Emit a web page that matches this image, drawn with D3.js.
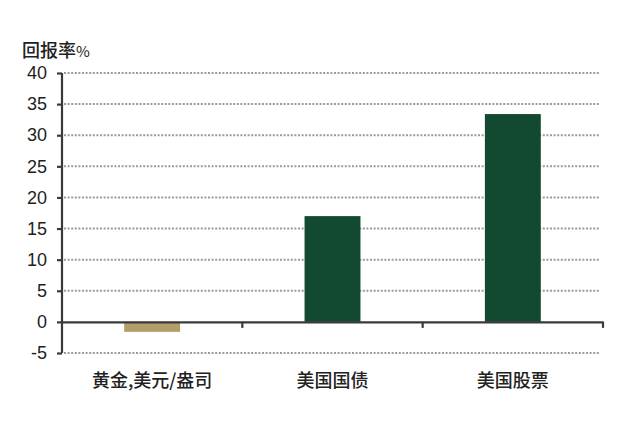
<!DOCTYPE html>
<html>
<head>
<meta charset="utf-8">
<script src="https://cdn.jsdelivr.net/npm/d3@7"></script>
<style>
  body { margin: 0; background: #fff; }
  text { font-family: "Liberation Sans", Arial, sans-serif; fill: #222; }
  .cjk { font-family: "Noto Sans CJK SC", sans-serif; font-weight: 500; }
</style>
</head>
<body>
<div id="chart"></div>
<script>
// chart data
var categories = ["黄金,美元/盎司", "美国国债", "美国股票"];
var returns = [-1.6, 17.0, 33.4];
var barColors = ["#b39d6a", "#124a31", "#124a31"];
var yTicks = [-5, 0, 5, 10, 15, 20, 25, 30, 35, 40];

var svgWidth = 640;
var svgHeight = 428;

var margin = { top: 73, bottom: 75, left: 62, right: 37 };
var width = svgWidth - margin.left - margin.right;
var height = svgHeight - margin.top - margin.bottom;

var svg = d3.select("#chart")
  .append("svg")
  .attr("width", svgWidth)
  .attr("height", svgHeight);

var chartGroup = svg.append("g")
  .attr("transform", `translate(${margin.left}, ${margin.top})`);

// scales
var yScale = d3.scaleLinear()
  .domain([-5, 40])
  .range([280, 0]);

var xBand = d3.scaleBand()
  .domain(categories)
  .range([0, width]);

var barBand = d3.scaleBand()
  .domain(categories)
  .range([0, width])
  .paddingInner(0.69)
  .paddingOuter(0.345);

// dotted gridlines
chartGroup.selectAll(".grid")
  .data(yTicks.filter(d => d !== 0))
  .enter()
  .append("line")
  .attr("x1", 2)
  .attr("x2", width - 3)
  .attr("y1", d => yScale(d))
  .attr("y2", d => yScale(d))
  .attr("stroke", "#9a9a9a")
  .attr("stroke-width", 2)
  .attr("stroke-dasharray", "2,1.6");

// bars
chartGroup.selectAll(".bar")
  .data(returns)
  .enter()
  .append("rect")
  .attr("x", (d, i) => barBand(categories[i]))
  .attr("width", barBand.bandwidth())
  .attr("y", d => yScale(Math.max(0, d)))
  .attr("height", d => Math.abs(yScale(d) - yScale(0)))
  .attr("fill", (d, i) => barColors[i]);

// y axis
var leftAxis = d3.axisLeft(yScale)
  .tickValues(yTicks)
  .tickFormat(d => String(d))
  .tickSize(5)
  .tickPadding(10);

var yAxisG = chartGroup.append("g").call(leftAxis);
yAxisG.select(".domain")
  .attr("d", `M0,${yScale(40)}V${yScale(-5)}`)
  .attr("stroke", "#3a3a3a")
  .attr("stroke-width", 2.2);
yAxisG.selectAll(".tick line")
  .attr("stroke", "#3a3a3a")
  .attr("stroke-width", 2.2);
yAxisG.selectAll(".tick text")
  .style("font-size", "18px")
  .style("fill", "#1e1e1e");

// x axis at zero
var bottomAxis = d3.axisBottom(xBand)
  .tickValues([])
  .tickSizeOuter(0);

var xAxisG = chartGroup.append("g")
  .attr("transform", `translate(0, ${yScale(0)})`)
  .call(bottomAxis);
xAxisG.select(".domain")
  .attr("stroke", "#3a3a3a")
  .attr("stroke-width", 2.2);

// category separator ticks
xAxisG.selectAll(".sep")
  .data(categories)
  .enter()
  .append("line")
  .attr("x1", d => xBand(d) + xBand.bandwidth())
  .attr("x2", d => xBand(d) + xBand.bandwidth())
  .attr("y1", 0)
  .attr("y2", 6)
  .attr("stroke", "#3a3a3a")
  .attr("stroke-width", 2.2);

// category labels
chartGroup.selectAll(".cat")
  .data(categories)
  .enter()
  .append("text")
  .attr("class", "cjk")
  .attr("x", d => xBand(d) + xBand.bandwidth() / 2)
  .attr("y", yScale(-5) + 34)
  .attr("text-anchor", "middle")
  .style("font-size", "18px")
  .text(d => d);

// y axis title
var title = svg.append("text")
  .attr("x", 22)
  .attr("y", 57)
  .attr("class", "cjk")
  .style("font-size", "18px");
title.append("tspan").text("回报率");
title.append("tspan").style("font-size", "15px").style("font-weight", "400").text("%");
</script>
</body>
</html>
